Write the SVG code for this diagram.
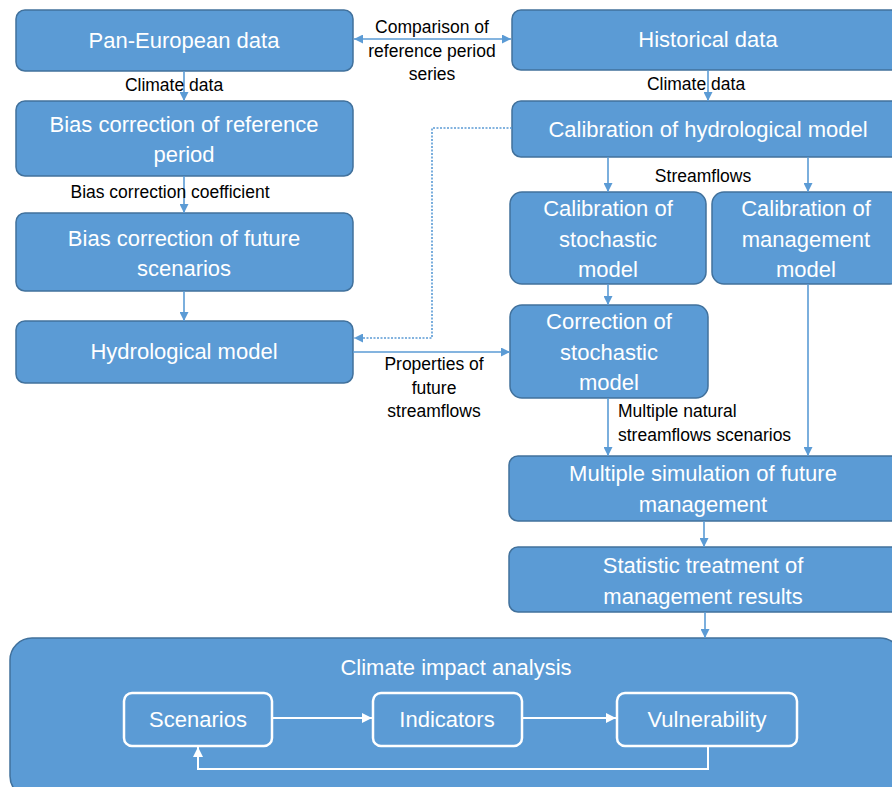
<svg xmlns="http://www.w3.org/2000/svg" width="892" height="787" viewBox="0 0 892 787">
<defs>
<style>
.box{fill:#5B9BD5;stroke:#41719C;stroke-width:1.5}
.bt{fill:#fff;font-family:"Liberation Sans",Arial,sans-serif;font-size:22px;text-anchor:middle}
.lb{fill:#000;font-family:"Liberation Sans",Arial,sans-serif;font-size:17.5px;text-anchor:middle}
.ln{fill:none;stroke:#5B9BD5;stroke-width:1.6}
.wl{fill:none;stroke:#fff;stroke-width:2}
.ib{fill:none;stroke:#fff;stroke-width:2.5}
</style>
<marker id="ah" viewBox="0 0 10 10" refX="10" refY="5" markerWidth="9" markerHeight="9" markerUnits="userSpaceOnUse" orient="auto-start-reverse"><path d="M0,0 L10,5 L0,10 z" fill="#5B9BD5"/></marker>
<marker id="wh" viewBox="0 0 10 10" refX="10" refY="5" markerWidth="10" markerHeight="10" markerUnits="userSpaceOnUse" orient="auto"><path d="M0,0 L10,5 L0,10 z" fill="#fff"/></marker>
</defs>
<rect width="892" height="787" fill="#fff"/>

<g id="n-pan"><rect class="box" x="16" y="10" width="337" height="61" rx="9"/><text class="bt" x="184" y="48">Pan-European data</text></g>
<g id="n-hist"><rect class="box" x="512" y="10" width="390" height="60" rx="9"/><text class="bt" x="708" y="47">Historical data</text></g>
<g id="n-biasref"><rect class="box" x="16" y="101" width="337" height="75" rx="9"/><text class="bt" x="184" y="132">Bias correction of reference</text><text class="bt" x="184" y="162">period</text></g>
<g id="n-biasfut"><rect class="box" x="16" y="213" width="337" height="78" rx="9"/><text class="bt" x="184" y="246">Bias correction of future</text><text class="bt" x="184" y="276">scenarios</text></g>
<g id="n-hydro"><rect class="box" x="16" y="321" width="337" height="62" rx="9"/><text class="bt" x="184" y="359">Hydrological model</text></g>
<g id="n-calhydro"><rect class="box" x="512" y="101" width="390" height="56" rx="9"/><text class="bt" x="708" y="137">Calibration of hydrological model</text></g>
<g id="n-calstoch"><rect class="box" x="510" y="192" width="196" height="92" rx="12"/><text class="bt" x="608" y="216">Calibration of</text><text class="bt" x="608" y="247">stochastic</text><text class="bt" x="608" y="277">model</text></g>
<g id="n-calman"><rect class="box" x="712" y="192" width="190" height="92" rx="12"/><text class="bt" x="806" y="216">Calibration of</text><text class="bt" x="806" y="247">management</text><text class="bt" x="806" y="277">model</text></g>
<g id="n-corr"><rect class="box" x="510" y="305" width="198" height="93" rx="12"/><text class="bt" x="609" y="329">Correction of</text><text class="bt" x="609" y="360">stochastic</text><text class="bt" x="609" y="390">model</text></g>
<g id="n-multi"><rect class="box" x="509" y="456" width="393" height="65" rx="9"/><text class="bt" x="703" y="481">Multiple simulation of future</text><text class="bt" x="703" y="512">management</text></g>
<g id="n-stat"><rect class="box" x="509" y="547" width="393" height="65" rx="9"/><text class="bt" x="703" y="573">Statistic treatment of</text><text class="bt" x="703" y="604">management results</text></g>
<g id="n-climate"><rect class="box" x="10" y="638" width="892" height="160" rx="22"/><text class="bt" x="456" y="675">Climate impact analysis</text></g>
<g id="n-scen"><rect class="ib" x="124" y="693" width="148" height="53" rx="8"/><text class="bt" x="198" y="727">Scenarios</text></g>
<g id="n-ind"><rect class="ib" x="373" y="693" width="149" height="53" rx="8"/><text class="bt" x="447" y="727">Indicators</text></g>
<g id="n-vul"><rect class="ib" x="617" y="693" width="180" height="53" rx="8"/><text class="bt" x="707" y="727">Vulnerability</text></g>

<g id="connectors">
<path class="ln" d="M354,39 H511" marker-start="url(#ah)" marker-end="url(#ah)"/>
<path class="ln" d="M184,71 V101" marker-end="url(#ah)"/>
<path class="ln" d="M184,176 V213" marker-end="url(#ah)"/>
<path class="ln" d="M184,291 V321" marker-end="url(#ah)"/>
<path class="ln" d="M708,70 V101" marker-end="url(#ah)"/>
<path class="ln" d="M608,157 V192" marker-end="url(#ah)"/>
<path class="ln" d="M808,157 V192" marker-end="url(#ah)"/>
<path class="ln" d="M608,284 V305" marker-end="url(#ah)"/>
<path class="ln" d="M512,128 H432 V338 H354" stroke-dasharray="2 1.5" marker-end="url(#ah)"/>
<path class="ln" d="M353,352 H510" marker-end="url(#ah)"/>
<path class="ln" d="M608,398 V456" marker-end="url(#ah)"/>
<path class="ln" d="M808,284 V456" marker-end="url(#ah)"/>
<path class="ln" d="M704,521 V547" marker-end="url(#ah)"/>
<path class="ln" d="M705,612 V638" marker-end="url(#ah)"/>
<path class="wl" d="M273,718 H372" marker-end="url(#wh)"/>
<path class="wl" d="M523,718 H616" marker-end="url(#wh)"/>
<path class="wl" d="M708,747 V769 H198 V747" marker-end="url(#wh)"/>
</g>

<g id="labels">
<text class="lb" x="432" y="33">Comparison of</text>
<text class="lb" x="432" y="57">reference period</text>
<text class="lb" x="432" y="80">series</text>
<text class="lb" x="174" y="91">Climate data</text>
<text class="lb" x="170" y="198">Bias correction coefficient</text>
<text class="lb" x="696" y="90">Climate data</text>
<text class="lb" x="703" y="182">Streamflows</text>
<text class="lb" x="434" y="370">Properties of</text>
<text class="lb" x="434" y="394">future</text>
<text class="lb" x="434" y="417">streamflows</text>
<text class="lb" x="618" y="417" style="text-anchor:start">Multiple natural</text>
<text class="lb" x="618" y="441" style="text-anchor:start">streamflows scenarios</text>
</g>
</svg>
